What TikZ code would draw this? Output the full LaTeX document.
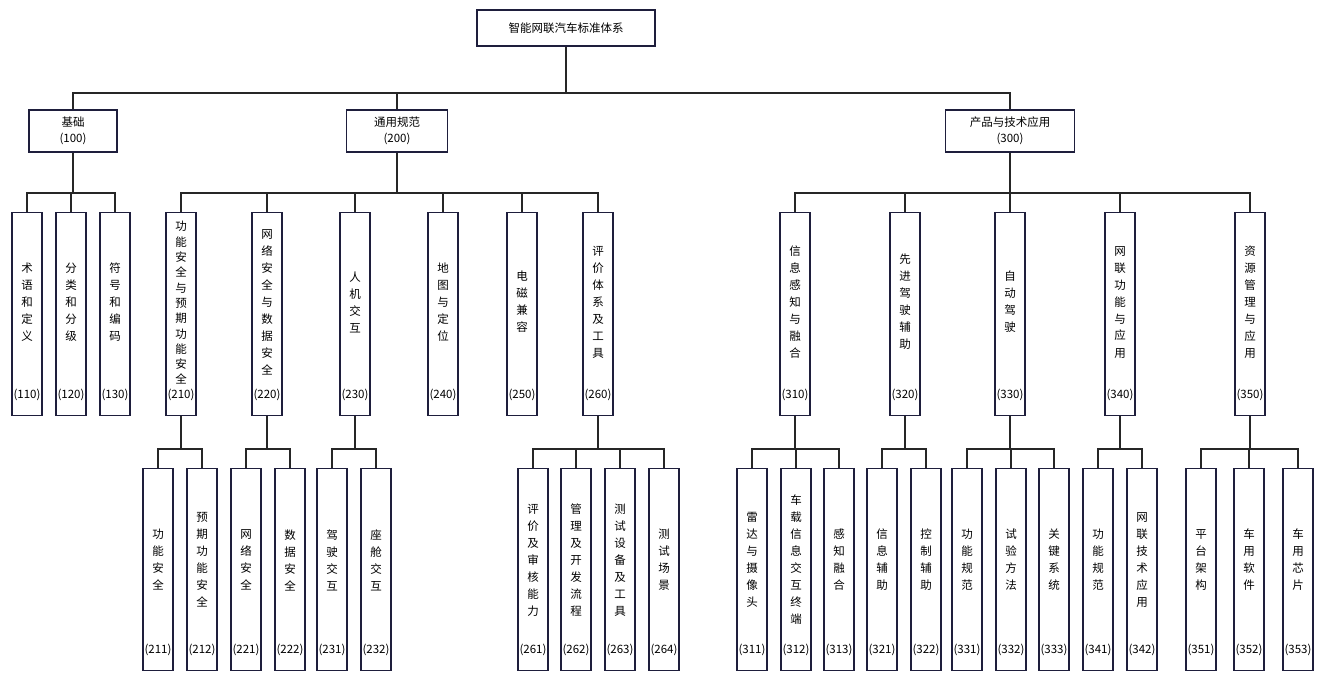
\documentclass[tikz,border=0pt]{standalone}
\usepackage{fontspec}
\setmainfont{Noto Sans CJK SC}
\begin{document}
\begin{tikzpicture}[x=1pt,y=-1pt,
  box/.style={draw={rgb,255:red,30;green,30;blue,60},line width=1.3pt,fill=white,inner sep=0pt},
  ln/.style={line width=1.8pt,draw=black!85},
  txt/.style={font=\fontsize{11.5}{17}\selectfont,align=center,inner sep=0pt},
  code/.style={font=\fontsize{11.5}{14}\selectfont,inner sep=0pt}]
\useasboundingbox (0,0) rectangle (1327,685);
\newcommand\vb[7]{%
  \node[box,minimum width=30pt,minimum height=#4pt,anchor=north] (#1) at (#2,#3) {};
  \node[txt] at (#2,#7) {#5};
  \node[code] at (#2,#3+#4-20) {#6};}
\newcommand\hb[7]{%
  \node[box,minimum width=#4pt,minimum height=42pt] (#1) at (#2,#3) {};
  \node[txt,font=\fontsize{11.5}{16}\selectfont] at (#2,#3) {#5\\#6};}
% top
\node[box,minimum width=178pt,minimum height=36pt,txt] (top) at (566,28) {智能网联汽车标准体系};
\hb{b1}{73}{131}{88}{基础}{(100)}{}
\hb{b2}{397}{131}{101}{通用规范}{(200)}{}
\hb{b3}{1010}{131}{129}{产品与技术应用}{(300)}{}
\foreach \c in {b1,b2,b3}{\draw[ln] (top.south) -- (566,93) -| (\c.north);}
% level 2
\def\T{212}\def\H{203}\def\C{302}
\vb{n110}{27}{\T}{\H}{术\\语\\和\\定\\义}{(110)}{\C}
\vb{n120}{71}{\T}{\H}{分\\类\\和\\分\\级}{(120)}{\C}
\vb{n130}{115}{\T}{\H}{符\\号\\和\\编\\码}{(130)}{\C}
\vb{n210}{181}{\T}{\H}{}{(210)}{\C}
\node[txt,font=\fontsize{11.5}{15.3}\selectfont] at (181,303) {功\\能\\安\\全\\与\\预\\期\\功\\能\\安\\全};
\vb{n220}{267}{\T}{\H}{网\\络\\安\\全\\与\\数\\据\\安\\全}{(220)}{\C}
\vb{n230}{355}{\T}{\H}{人\\机\\交\\互}{(230)}{\C}
\vb{n240}{443}{\T}{\H}{地\\图\\与\\定\\位}{(240)}{\C}
\vb{n250}{522}{\T}{\H}{电\\磁\\兼\\容}{(250)}{\C}
\vb{n260}{598}{\T}{\H}{评\\价\\体\\系\\及\\工\\具}{(260)}{\C}
\vb{n310}{795}{\T}{\H}{信\\息\\感\\知\\与\\融\\合}{(310)}{\C}
\vb{n320}{905}{\T}{\H}{先\\进\\驾\\驶\\辅\\助}{(320)}{\C}
\vb{n330}{1010}{\T}{\H}{自\\动\\驾\\驶}{(330)}{\C}
\vb{n340}{1120}{\T}{\H}{网\\联\\功\\能\\与\\应\\用}{(340)}{\C}
\vb{n350}{1250}{\T}{\H}{资\\源\\管\\理\\与\\应\\用}{(350)}{\C}
\foreach \c in {n110,n120,n130}{\draw[ln] (b1.south) -- (73,193) -| (\c.north);}
\foreach \c in {n210,n220,n230,n240,n250,n260}{\draw[ln] (b2.south) -- (397,193) -| (\c.north);}
\foreach \c in {n310,n320,n330,n340,n350}{\draw[ln] (b3.south) -- (1010,193) -| (\c.north);}
% level 3
\def\T{468}\def\H{202}\def\C{560}
\vb{n211}{158}{\T}{\H}{功\\能\\安\\全}{(211)}{\C}
\vb{n212}{202}{\T}{\H}{预\\期\\功\\能\\安\\全}{(212)}{\C}
\vb{n221}{246}{\T}{\H}{网\\络\\安\\全}{(221)}{\C}
\vb{n222}{290}{\T}{\H}{数\\据\\安\\全}{(222)}{\C}
\vb{n231}{332}{\T}{\H}{驾\\驶\\交\\互}{(231)}{\C}
\vb{n232}{376}{\T}{\H}{座\\舱\\交\\互}{(232)}{\C}
\vb{n261}{533}{\T}{\H}{评\\价\\及\\审\\核\\能\\力}{(261)}{\C}
\vb{n262}{576}{\T}{\H}{管\\理\\及\\开\\发\\流\\程}{(262)}{\C}
\vb{n263}{620}{\T}{\H}{测\\试\\设\\备\\及\\工\\具}{(263)}{\C}
\vb{n264}{664}{\T}{\H}{测\\试\\场\\景}{(264)}{\C}
\vb{n311}{752}{\T}{\H}{雷\\达\\与\\摄\\像\\头}{(311)}{\C}
\vb{n312}{796}{\T}{\H}{车\\载\\信\\息\\交\\互\\终\\端}{(312)}{\C}
\vb{n313}{839}{\T}{\H}{感\\知\\融\\合}{(313)}{\C}
\vb{n321}{882}{\T}{\H}{信\\息\\辅\\助}{(321)}{\C}
\vb{n322}{926}{\T}{\H}{控\\制\\辅\\助}{(322)}{\C}
\vb{n331}{967}{\T}{\H}{功\\能\\规\\范}{(331)}{\C}
\vb{n332}{1011}{\T}{\H}{试\\验\\方\\法}{(332)}{\C}
\vb{n333}{1054}{\T}{\H}{关\\键\\系\\统}{(333)}{\C}
\vb{n341}{1098}{\T}{\H}{功\\能\\规\\范}{(341)}{\C}
\vb{n342}{1142}{\T}{\H}{网\\联\\技\\术\\应\\用}{(342)}{\C}
\vb{n351}{1201}{\T}{\H}{平\\台\\架\\构}{(351)}{\C}
\vb{n352}{1249}{\T}{\H}{车\\用\\软\\件}{(352)}{\C}
\vb{n353}{1298}{\T}{\H}{车\\用\\芯\\片}{(353)}{\C}
\foreach \p/\cs in {n210/{n211,n212},n220/{n221,n222},n230/{n231,n232},n260/{n261,n262,n263,n264},n310/{n311,n312,n313},n320/{n321,n322},n330/{n331,n332,n333},n340/{n341,n342},n350/{n351,n352,n353}}{
  \foreach \c in \cs {\draw[ln] (\p.south) -- ++(0,33) -| (\c.north);}}
\end{tikzpicture}
\end{document}
